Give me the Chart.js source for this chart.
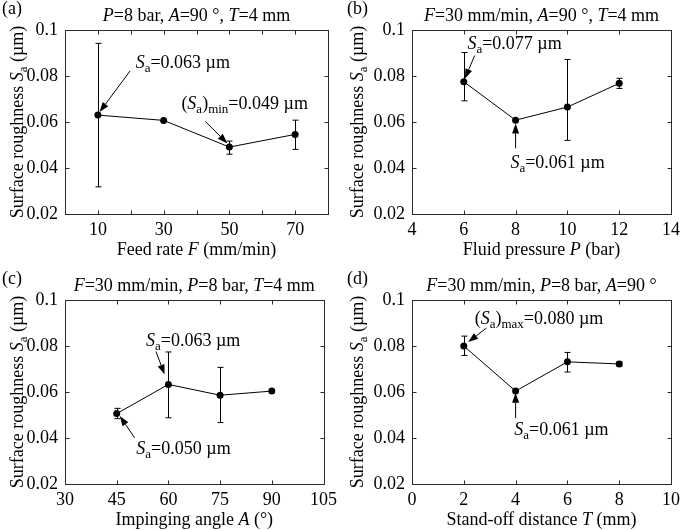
<!DOCTYPE html>
<html>
<head>
<meta charset="utf-8">
<title>Surface roughness</title>
<script src="https://cdn.jsdelivr.net/npm/chart.js"></script>
<style>
  body { margin: 0; background: #fff; }
  canvas { position: absolute; }
  .warm { position: absolute; left: -999px; top: 0; font-family: "Liberation Serif"; }
</style>
</head>
<body>
<div class="warm">Surface <i>S</i> 0.1 µm °</div>
<canvas id="chartA" width="342" height="265" style="left:0;top:0"></canvas>
<canvas id="chartB" width="343" height="265" style="left:342px;top:0"></canvas>
<canvas id="chartC" width="342" height="265" style="left:0;top:265px"></canvas>
<canvas id="chartD" width="343" height="265" style="left:342px;top:265px"></canvas>

<script>
    // (a) feed rate
    const feedRate = [10, 30, 50, 70];
    const feedSa = [0.063, 0.0607, 0.0491, 0.0546];
    const feedLow = [0.0318, null, 0.046, 0.0481];
    const feedHigh = [0.0942, null, 0.0517, 0.0608];

    // (b) fluid pressure
    const pressure = [6, 8, 10, 12];
    const pressureSa = [0.0775, 0.0608, 0.0665, 0.0768];
    const pressureLow = [0.0692, null, 0.052, 0.0746];
    const pressureHigh = [0.0902, null, 0.0872, 0.079];

    // (c) impinging angle
    const angle = [45, 60, 75, 90];
    const angleSa = [0.0506, 0.0633, 0.0586, 0.0604];
    const angleLow = [0.0484, 0.0488, 0.0467, null];
    const angleHigh = [0.0529, 0.0774, 0.0707, null];

    // (d) stand-off distance
    const distance = [2, 4, 6, 8];
    const distanceSa = [0.080, 0.0604, 0.0731, 0.0722];
    const distanceLow = [0.0759, null, 0.0687, 0.0713];
    const distanceHigh = [0.0843, null, 0.0772, 0.0731];

    const yTickValues = [0.02, 0.04, 0.06, 0.08, 0.1];

    const FONT = '"Liberation Serif", "DejaVu Serif", serif';
    const STYLES = {
        n: '18px ' + FONT,
        i: 'italic 18px ' + FONT,
        s: '13px ' + FONT
    };

    // draw text made of [text, style] pieces, y is the middle of the line
    function richText(ctx, parts, x, y, align) {
        let w = 0;
        parts.forEach(p => { ctx.font = STYLES[p[1]]; w += ctx.measureText(p[0]).width; });
        let cx = align === 'center' ? x - w / 2 : x;
        ctx.textAlign = 'left';
        ctx.textBaseline = 'alphabetic';
        parts.forEach(p => {
            ctx.font = STYLES[p[1]];
            ctx.fillText(p[0], cx, y + 6 + (p[1] === 's' ? 4 : 0));
            cx += ctx.measureText(p[0]).width;
        });
    }

    function arrow(ctx, x1, y1, x2, y2) {
        const a = Math.atan2(y2 - y1, x2 - x1);
        const L = 10, W = 3.5;
        const bx = x2 - L * Math.cos(a), by = y2 - L * Math.sin(a);
        ctx.beginPath();
        ctx.moveTo(x1, y1);
        ctx.lineTo(bx, by);
        ctx.stroke();
        ctx.beginPath();
        ctx.moveTo(x2, y2);
        ctx.lineTo(bx + W * Math.sin(a), by - W * Math.cos(a));
        ctx.lineTo(bx - W * Math.sin(a), by + W * Math.cos(a));
        ctx.closePath();
        ctx.fill();
    }

    const sa = [['S', 'i'], ['a', 's']];

    const panels = [
        {
            id: 'chartA', letter: '(a)', xs: feedRate, ys: feedSa, lo: feedLow, hi: feedHigh,
            xMin: 0, xMax: 80, xStep: 10, xLabel: v => ((v - 10) % 20 === 0 ? String(v) : ''),
            yW: 65, padTop: 30, padRight: 14, xH: 51, letterX: 2, yTitleX: 17,
            title: [['P', 'i'], ['=8 bar, ', 'n'], ['A', 'i'], ['=90 °, ', 'n'], ['T', 'i'], ['=4 mm', 'n']],
            xTitle: [['Feed rate ', 'n'], ['F', 'i'], [' (mm/min)', 'n']],
            notes: [
                { x: 21.5, y: 0.0863, parts: [...sa, ['=0.063 µm', 'n']] },
                { x: 35.4, y: 0.0683, parts: [['(', 'n'], ...sa, [')', 'n'], ['min', 's'], ['=0.049 µm', 'n']] }
            ],
            arrows: [[19.8, 0.0822, 10.5, 0.0643], [42.7, 0.0602, 49.4, 0.0507]]
        },
        {
            id: 'chartB', letter: '(b)', xs: pressure, ys: pressureSa, lo: pressureLow, hi: pressureHigh,
            xMin: 4, xMax: 14, xStep: 2, xLabel: v => String(v),
            yW: 70, padTop: 30, padRight: 10, xH: 51, letterX: 5, yTitleX: 15,
            title: [['F', 'i'], ['=30 mm/min, ', 'n'], ['A', 'i'], ['=90 °, ', 'n'], ['T', 'i'], ['=4 mm', 'n']],
            xTitle: [['Fluid pressure ', 'n'], ['P', 'i'], [' (bar)', 'n']],
            notes: [
                { x: 6.14, y: 0.0945, parts: [...sa, ['=0.077 µm', 'n']] },
                { x: 7.8, y: 0.0426, parts: [...sa, ['=0.061 µm', 'n']] }
            ],
            arrows: [[6.42, 0.0889, 6.04, 0.0788], [8.0, 0.0485, 8.0, 0.0594]]
        },
        {
            id: 'chartC', letter: '(c)', xs: angle, ys: angleSa, lo: angleLow, hi: angleHigh,
            xMin: 30, xMax: 105, xStep: 15, xLabel: v => String(v),
            yW: 65, padTop: 35, padRight: 14, xH: 46, letterX: 2, yTitleX: 17,
            title: [['F', 'i'], ['=30 mm/min, ', 'n'], ['P', 'i'], ['=8 bar, ', 'n'], ['T', 'i'], ['=4 mm', 'n']],
            xTitle: [['Impinging angle ', 'n'], ['A', 'i'], [' (°)', 'n']],
            notes: [
                { x: 53.5, y: 0.0826, parts: [...sa, ['=0.063 µm', 'n']] },
                { x: 50.7, y: 0.0356, parts: [...sa, ['=0.050 µm', 'n']] }
            ],
            arrows: [[56.4, 0.0776, 58.9, 0.0676], [50.2, 0.0401, 45.9, 0.0496]]
        },
        {
            id: 'chartD', letter: '(d)', xs: distance, ys: distanceSa, lo: distanceLow, hi: distanceHigh,
            xMin: 0, xMax: 10, xStep: 2, xLabel: v => String(v),
            yW: 70, padTop: 35, padRight: 10, xH: 46, letterX: 5, yTitleX: 15,
            title: [['F', 'i'], ['=30 mm/min, ', 'n'], ['P', 'i'], ['=8 bar, ', 'n'], ['A', 'i'], ['=90 °', 'n']],
            xTitle: [['Stand-off distance ', 'n'], ['T', 'i'], [' (mm)', 'n']],
            notes: [
                { x: 2.42, y: 0.0921, parts: [['(', 'n'], ...sa, [')', 'n'], ['max', 's'], ['=0.080 µm', 'n']] },
                { x: 3.95, y: 0.0438, parts: [...sa, ['=0.061 µm', 'n']] }
            ],
            arrows: [[2.87, 0.0878, 2.17, 0.0817], [4.0, 0.0486, 4.0, 0.0597]]
        }
    ];

    // frame, inward ticks, error bars, labels and arrows
    const decorate = {
        id: 'decorate',
        afterDatasetsDraw(chart, args, opts) {
            const p = opts.panel;
            const ctx = chart.ctx;
            const area = chart.chartArea;
            const xs = chart.scales.x, ys = chart.scales.y;
            const L = Math.round(area.left) + 0.5, R = Math.round(area.right) + 0.5;
            const T = Math.round(area.top) + 0.5, B = Math.round(area.bottom) + 0.5;
            ctx.save();
            ctx.strokeStyle = '#2a2a2a';
            ctx.lineWidth = 1;
            ctx.strokeRect(L, T, R - L, B - T);
            ctx.beginPath();
            xs.ticks.forEach(t => {
                const px = Math.round(xs.getPixelForValue(t.value)) + 0.5;
                ctx.moveTo(px, B); ctx.lineTo(px, B - 4);
                ctx.moveTo(px, T); ctx.lineTo(px, T + 4);
            });
            ys.ticks.forEach(t => {
                const py = Math.round(ys.getPixelForValue(t.value)) + 0.5;
                ctx.moveTo(L, py); ctx.lineTo(L + 4, py);
                ctx.moveTo(R, py); ctx.lineTo(R - 4, py);
            });
            ctx.stroke();

            // error bars
            ctx.strokeStyle = '#000';
            ctx.beginPath();
            p.xs.forEach((xv, i) => {
                if (p.lo[i] == null) return;
                const px = Math.round(xs.getPixelForValue(xv)) + 0.5;
                const y1 = ys.getPixelForValue(p.lo[i]), y2 = ys.getPixelForValue(p.hi[i]);
                ctx.moveTo(px, y1); ctx.lineTo(px, y2);
                ctx.moveTo(px - 3, y1); ctx.lineTo(px + 3, y1);
                ctx.moveTo(px - 3, y2); ctx.lineTo(px + 3, y2);
            });
            ctx.stroke();

            ctx.fillStyle = '#000';
            // annotations
            p.notes.forEach(n => richText(ctx, n.parts, xs.getPixelForValue(n.x), ys.getPixelForValue(n.y), 'left'));
            p.arrows.forEach(a => arrow(ctx,
                xs.getPixelForValue(a[0]), ys.getPixelForValue(a[1]),
                xs.getPixelForValue(a[2]), ys.getPixelForValue(a[3])));

            // titles
            const midX = (area.left + area.right) / 2;
            richText(ctx, p.title, midX, area.top - 15, 'center');
            richText(ctx, p.xTitle, midX, area.bottom + 35, 'center');
            richText(ctx, [[p.letter, 'n']], p.letterX, area.top - 22, 'left');
            ctx.translate(p.yTitleX, (area.top + area.bottom) / 2);
            ctx.rotate(-Math.PI / 2);
            richText(ctx, [['Surface roughness ', 'n'], ...sa, [' (µm)', 'n']], 0, 0, 'center');
            ctx.restore();
        }
    };

    function drawAll() {
        panels.forEach(p => {
            const ctx = document.getElementById(p.id).getContext('2d');
            new Chart(ctx, {
                type: 'scatter',
                data: {
                    datasets: [{
                        data: p.xs.map((x, i) => ({ x: x, y: p.ys[i] })),
                        showLine: true,
                        borderColor: '#000',
                        borderWidth: 1,
                        backgroundColor: '#000',
                        pointRadius: 3.5,
                        pointBorderWidth: 0
                    }]
                },
                options: {
                    responsive: false,
                    animation: false,
                    devicePixelRatio: 1,
                    layout: { padding: { top: p.padTop, right: p.padRight, left: 0, bottom: 0 } },
                    plugins: {
                        legend: { display: false },
                        tooltip: { enabled: false },
                        decorate: { panel: p }
                    },
                    scales: {
                        x: {
                            type: 'linear',
                            min: p.xMin,
                            max: p.xMax,
                            grid: { display: false, drawTicks: false },
                            border: { display: false },
                            afterFit: s => { s.height = p.xH; },
                            ticks: {
                                stepSize: p.xStep,
                                autoSkip: false,
                                maxRotation: 0,
                                padding: 5,
                                color: '#000',
                                font: { family: FONT, size: 18 },
                                callback: v => p.xLabel(v)
                            }
                        },
                        y: {
                            min: 0.02,
                            max: 0.1,
                            grid: { display: false, drawTicks: false },
                            border: { display: false },
                            afterFit: s => { s.width = p.yW; },
                            afterBuildTicks: s => { s.ticks = yTickValues.map(v => ({ value: v })); },
                            ticks: {
                                padding: 7,
                                color: '#000',
                                font: { family: FONT, size: 18 },
                                callback: v => String(+v.toFixed(2))
                            }
                        }
                    }
                },
                plugins: [decorate]
            });
        });
    }

    Promise.all([
        document.fonts.load('18px "Liberation Serif"'),
        document.fonts.load('italic 18px "Liberation Serif"')
    ]).then(drawAll, drawAll);
</script>
</body>
</html>
